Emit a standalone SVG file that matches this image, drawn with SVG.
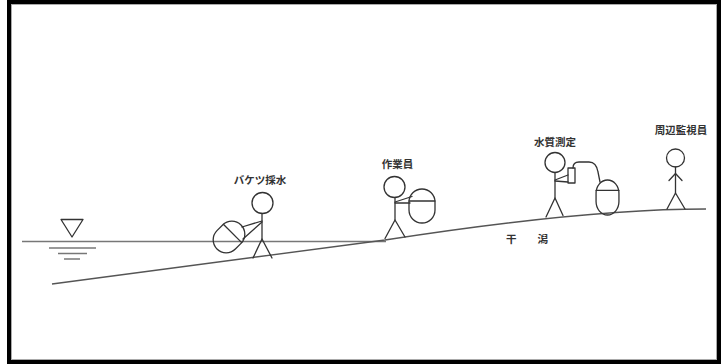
<svg xmlns="http://www.w3.org/2000/svg" width="723" height="364" viewBox="0 0 723 364">
  <style>
    .fig { fill: none; stroke: #333; stroke-width: 1.3; stroke-linecap: round; stroke-linejoin: round; }
    .ground { fill: none; stroke: #555; stroke-width: 1.4; }
    .water { fill: none; stroke: #777; stroke-width: 1.5; }
    .label { font-family: "Noto Sans CJK JP", "Noto Sans", sans-serif; font-size: 10.5px; font-weight: 700; fill: #333; text-anchor: middle; }
  </style>
  <defs>
    <!-- bucket: capsule with a lid line, centred on the origin -->
    <g id="bucket">
      <rect x="-13" y="-17" width="26" height="34" rx="13" ry="13" class="fig"/>
      <line x1="-13" y1="-5" x2="13" y2="-5" class="fig"/>
    </g>
  </defs>

  <rect x="0" y="0" width="723" height="364" fill="#fff"/>

  <!-- frame -->
  <rect x="9" y="2" width="710" height="360" fill="none" stroke="#000" stroke-width="4"/>
  <rect x="11.5" y="4.5" width="705" height="355" fill="none" stroke="#aaa" stroke-width="1"/>

  <g id="connectors">
    <!-- water surface -->
    <line x1="22" y1="241.5" x2="386" y2="241.5" class="water"/>
    <!-- water level mark -->
    <path d="M61,219.5 L83,219.5 L72,237 Z" class="fig" stroke="#444"/>
    <line x1="49" y1="248" x2="96" y2="248" class="water"/>
    <line x1="58" y1="253.5" x2="87" y2="253.5" class="water"/>
    <line x1="64" y1="259" x2="80" y2="259" class="water"/>
    <!-- tidal flat slope -->
    <path d="M52,284 L385,240 Q585,209 706,209" class="ground"/>
    <!-- sensor cable from meter to bucket -->
    <path d="M573,168 C573,164 575,162 579,162 L589,162 C595,162 597,166 598,172 L600,182" class="fig"/>
  </g>

  <g id="bucket-sampling">
    <text x="260" y="184" class="label">バケツ採水</text>
    <circle cx="262.5" cy="203" r="10.5" class="fig"/>
    <line x1="262" y1="213.5" x2="262" y2="239" class="fig"/>
    <polyline points="253,258 262,239 272,258" class="fig"/>
    <line x1="262" y1="221" x2="242" y2="227" class="fig"/>
    <line x1="262" y1="222" x2="243" y2="239" class="fig"/>
    <use href="#bucket" transform="translate(229,237) rotate(45)"/>
  </g>

  <g id="worker">
    <text x="397.5" y="168" class="label">作業員</text>
    <circle cx="394.5" cy="187" r="10.5" class="fig"/>
    <line x1="395" y1="197.5" x2="395" y2="220" class="fig"/>
    <polyline points="385,238.5 395,220 405,237" class="fig"/>
    <line x1="395" y1="202" x2="412" y2="196.5" class="fig"/>
    <line x1="395" y1="203" x2="410" y2="203" class="fig"/>
    <use href="#bucket" transform="translate(422,206)"/>
  </g>

  <g id="water-quality">
    <text x="555" y="146" class="label">水質測定</text>
    <circle cx="555" cy="162.5" r="10" class="fig"/>
    <line x1="555" y1="172.5" x2="555" y2="198" class="fig"/>
    <polyline points="546,217 555,198 563,215.5" class="fig"/>
    <line x1="555" y1="180" x2="568" y2="175" class="fig"/>
    <line x1="555" y1="181" x2="568" y2="182" class="fig"/>
    <rect x="568" y="168" width="7" height="15" class="fig"/>
    <g transform="translate(607.5,197.5) scale(0.88,1.03)">
      <rect x="-13" y="-17" width="26" height="34" rx="13" ry="13" class="fig" vector-effect="non-scaling-stroke"/>
      <line x1="-13" y1="-7" x2="13" y2="-7" class="fig" vector-effect="non-scaling-stroke"/>
    </g>
  </g>

  <g id="monitor">
    <text x="681" y="134" class="label">周辺監視員</text>
    <circle cx="675.5" cy="158" r="9" class="fig"/>
    <line x1="675.5" y1="167" x2="675.5" y2="193" class="fig"/>
    <polyline points="669,180.5 675.5,173.5 682,180.5" class="fig"/>
    <polyline points="667,209 675.5,193 685,209" class="fig"/>
  </g>

  <g id="tidal-flat-label">
    <text x="506" y="243" class="label" style="text-anchor:start">干　　潟</text>
  </g>
</svg>
